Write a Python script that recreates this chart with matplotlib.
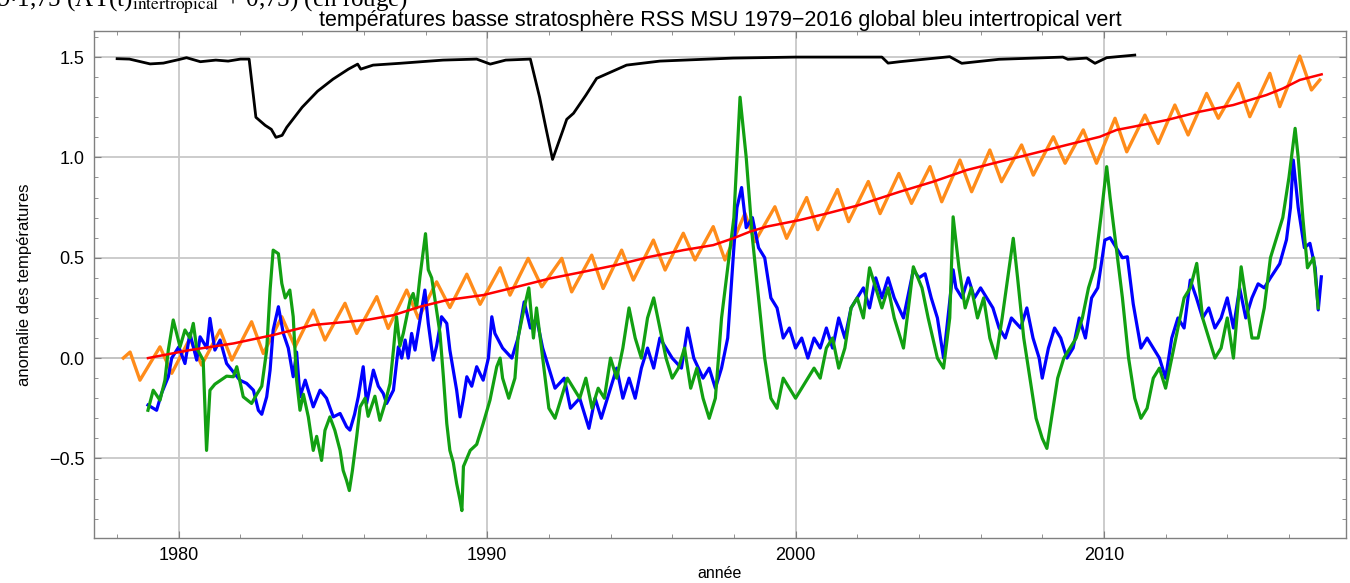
import numpy as np
import matplotlib.pyplot as plt
from matplotlib.ticker import MultipleLocator

# --- data ---
black_t = [1978.0, 1978.4, 1979.07, 1979.5, 1980.04, 1980.25, 1980.7, 1981.2, 1981.6, 1982.0, 1982.28,
           1982.5, 1982.8, 1983.0, 1983.15, 1983.35, 1983.5, 1984.0, 1984.5, 1985.0, 1985.5, 1985.8,
           1985.9, 1986.3, 1987.17, 1988.57, 1989.66, 1990.1, 1990.6, 1991.4, 1991.7, 1991.9, 1992.12,
           1992.46, 1992.58, 1992.8, 1993.2, 1993.55, 1994.52, 1995.6, 1997.97, 2000.0, 2002.8, 2003.0,
           2003.38, 2005.0, 2005.39, 2006.6, 2008.67, 2008.83, 2009.44, 2009.71, 2010.09, 2011.0]
black_v = [1.492, 1.49, 1.466, 1.47, 1.489, 1.497, 1.477, 1.485, 1.48, 1.49, 1.49,
           1.20, 1.16, 1.14, 1.10, 1.11, 1.15, 1.25, 1.33, 1.39, 1.44, 1.465,
           1.44, 1.46, 1.469, 1.485, 1.49, 1.465, 1.485, 1.49, 1.30, 1.15, 0.99,
           1.137, 1.19, 1.22, 1.31, 1.394, 1.46, 1.48, 1.495, 1.50, 1.50, 1.47,
           1.477, 1.502, 1.469, 1.489, 1.50, 1.489, 1.495, 1.469, 1.497, 1.51]

red_t = [1979.0, 1980.36, 1981.77, 1983.06, 1984.36, 1986.09, 1986.96, 1987.82, 1988.69, 1989.87,
         1990.96, 1992.04, 1993.12, 1994.2, 1995.28, 1996.36, 1997.33, 1997.98, 1998.52, 1999.06,
         2000.14, 2001.0, 2002.0, 2002.8, 2003.38, 2004.46, 2005.55, 2006.63, 2007.71, 2008.79,
         2009.87, 2010.41, 2010.95, 2012.03, 2013.11, 2014.19, 2015.27, 2015.81, 2016.35, 2017.06]
red_v = [0.0, 0.04, 0.073, 0.115, 0.165, 0.19, 0.214, 0.256, 0.289, 0.314,
         0.355, 0.397, 0.43, 0.464, 0.505, 0.538, 0.563, 0.597, 0.63, 0.655,
         0.688, 0.72, 0.76, 0.80, 0.829, 0.879, 0.937, 0.979, 1.02, 1.062,
         1.103, 1.137, 1.153, 1.186, 1.228, 1.261, 1.311, 1.344, 1.386, 1.414]

orange_t = [1978.2, 1978.42, 1978.74, 1979.39, 1979.77, 1980.36, 1980.74, 1981.34, 1981.72, 1982.36,
            1982.74, 1983.34, 1983.77, 1984.36, 1984.74, 1985.39, 1985.77, 1986.42, 1986.79, 1987.39,
            1987.77, 1988.36, 1988.79, 1989.34, 1989.77, 1990.42, 1990.74, 1991.33, 1991.77, 1992.42,
            1992.74, 1993.39, 1993.76, 1994.36, 1994.74, 1995.39, 1995.77, 1996.36, 1996.74, 1997.33,
            1997.71, 1998.36, 1998.68, 1999.33, 1999.71, 2000.36, 2000.72, 2001.36, 2001.72, 2002.36,
            2002.74, 2003.35, 2003.76, 2004.36, 2004.74, 2005.33, 2005.71, 2006.3, 2006.68, 2007.33,
            2007.71, 2008.36, 2008.74, 2009.33, 2009.76, 2010.36, 2010.74, 2011.33, 2011.76, 2012.3,
            2012.73, 2013.33, 2013.71, 2014.36, 2014.73, 2015.38, 2015.7, 2016.35, 2016.73, 2017.0]
orange_v = [0.0, 0.03, -0.11, 0.056, -0.076, 0.098, -0.035, 0.14, -0.01, 0.181,
            0.023, 0.206, 0.056, 0.239, 0.09, 0.273, 0.123, 0.306, 0.148, 0.339,
            0.198, 0.38, 0.252, 0.418, 0.268, 0.45, 0.314, 0.497, 0.355, 0.497,
            0.33, 0.513, 0.347, 0.538, 0.389, 0.588, 0.439, 0.622, 0.489, 0.655,
            0.489, 0.721, 0.58, 0.754, 0.597, 0.80, 0.64, 0.84, 0.68, 0.88,
            0.72, 0.92, 0.771, 0.954, 0.779, 0.987, 0.829, 1.037, 0.879, 1.062,
            0.912, 1.103, 0.971, 1.137, 0.971, 1.195, 1.028, 1.211, 1.07, 1.261,
            1.112, 1.319, 1.195, 1.369, 1.203, 1.419, 1.253, 1.505, 1.336, 1.386]

blue_t = [1979.0, 1979.28, 1979.44, 1979.66, 1979.77, 1980.0, 1980.2, 1980.36, 1980.58, 1980.69,
          1980.91, 1981.01, 1981.17, 1981.34, 1981.55, 1981.98, 1982.2, 1982.42, 1982.58, 1982.69,
          1982.85, 1982.96, 1983.06, 1983.23, 1983.39, 1983.55, 1983.71, 1983.82, 1983.93, 1984.1,
          1984.36, 1984.58, 1984.79, 1985.01, 1985.23, 1985.44, 1985.55, 1985.7, 1985.82, 1985.98,
          1986.09, 1986.31, 1986.47, 1986.63, 1986.74, 1986.96, 1987.12, 1987.23, 1987.34, 1987.44,
          1987.55, 1987.66, 1987.98, 1988.09, 1988.25, 1988.36, 1988.52, 1988.69, 1988.79, 1988.9,
          1989.01, 1989.12, 1989.23, 1989.34, 1989.5, 1989.66, 1989.87, 1990.04, 1990.15, 1990.25,
          1990.5, 1990.8, 1991.0, 1991.2, 1991.4, 1991.6, 1991.8, 1992.0, 1992.2, 1992.5,
          1992.7, 1993.0, 1993.3, 1993.5, 1993.7, 1994.0, 1994.2, 1994.4, 1994.6, 1994.8,
          1995.0, 1995.2, 1995.4, 1995.6, 1995.8, 1996.0, 1996.3, 1996.5, 1996.7, 1997.0,
          1997.2, 1997.4, 1997.6, 1997.8, 1998.0, 1998.1, 1998.25, 1998.4, 1998.6, 1998.8,
          1999.0, 1999.2, 1999.4, 1999.6, 1999.8, 2000.0, 2000.2, 2000.4, 2000.6, 2000.8,
          2001.0, 2001.2, 2001.4, 2001.6, 2001.8, 2002.0, 2002.2, 2002.4, 2002.6, 2002.8,
          2003.0, 2003.2, 2003.5, 2003.82, 2004.0, 2004.2, 2004.4, 2004.6, 2004.8, 2005.11,
          2005.2, 2005.4, 2005.6, 2005.8, 2006.0, 2006.2, 2006.4, 2006.6, 2006.8, 2007.0,
          2007.3, 2007.5, 2007.7, 2007.9, 2008.0, 2008.2, 2008.4, 2008.6, 2008.8, 2009.0,
          2009.2, 2009.4, 2009.6, 2009.8, 2010.03, 2010.2, 2010.4, 2010.6, 2010.76, 2010.95,
          2011.2, 2011.4, 2011.6, 2011.8, 2012.0, 2012.2, 2012.4, 2012.6, 2012.8, 2013.0,
          2013.2, 2013.4, 2013.6, 2013.8, 2014.0, 2014.2, 2014.4, 2014.6, 2014.8, 2015.0,
          2015.2, 2015.4, 2015.7, 2015.92, 2016.05, 2016.14, 2016.3, 2016.5, 2016.68, 2016.85,
          2016.95, 2017.05]
blue_v = [-0.234, -0.26, -0.176, -0.093, 0.0, 0.056, -0.027, 0.123, -0.01, 0.106,
          0.05, 0.198, 0.04, 0.09, -0.027, -0.11, -0.126, -0.16, -0.26, -0.28,
          -0.193, -0.06, 0.14, 0.256, 0.123, 0.05, -0.093, 0.03, -0.193, -0.11,
          -0.243, -0.16, -0.2, -0.293, -0.276, -0.342, -0.359, -0.28, -0.193, -0.043,
          -0.226, -0.06, -0.14, -0.176, -0.226, -0.16, 0.056, 0.0, 0.09, 0.0,
          0.123, 0.04, 0.339, 0.173, -0.01, 0.06, 0.206, 0.173, 0.04, -0.06,
          -0.16, -0.293, -0.2, -0.093, -0.14, -0.043, -0.11, 0.0, 0.206, 0.123,
          0.05, 0.0, 0.1, 0.28, 0.15, 0.2, 0.05, -0.05, -0.15, -0.1,
          -0.25, -0.2, -0.35, -0.2, -0.3, -0.15, -0.05, -0.2, -0.1, -0.2,
          -0.05, 0.05, -0.05, 0.1, 0.05, 0.0, -0.05, 0.15, 0.0, -0.1,
          -0.05, -0.15, -0.05, 0.1, 0.55, 0.75, 0.85, 0.65, 0.7, 0.55,
          0.5, 0.3, 0.25, 0.1, 0.15, 0.05, 0.1, 0.0, 0.1, 0.05,
          0.15, 0.05, 0.2, 0.1, 0.25, 0.3, 0.35, 0.25, 0.4, 0.3,
          0.4, 0.3, 0.2, 0.44, 0.4, 0.42, 0.3, 0.2, 0.0, 0.44,
          0.35, 0.3, 0.4, 0.3, 0.35, 0.3, 0.25, 0.15, 0.1, 0.2,
          0.15, 0.25, 0.1, 0.0, -0.1, 0.05, 0.15, 0.1, 0.0, 0.05,
          0.2, 0.1, 0.3, 0.35, 0.588, 0.6, 0.55, 0.5, 0.505, 0.27,
          0.05, 0.1, 0.05, 0.0, -0.1, 0.1, 0.2, 0.15, 0.389, 0.3,
          0.2, 0.25, 0.15, 0.2, 0.3, 0.15, 0.35, 0.2, 0.3, 0.37,
          0.35, 0.4, 0.47, 0.59, 0.75, 0.987, 0.75, 0.55, 0.572, 0.45,
          0.24, 0.405]

green_t = [1979.0, 1979.17, 1979.39, 1979.55, 1979.66, 1979.82, 1980.04, 1980.2, 1980.36, 1980.47,
           1980.58, 1980.79, 1980.9, 1981.01, 1981.17, 1981.55, 1981.77, 1981.88, 1982.09, 1982.36,
           1982.53, 1982.69, 1982.85, 1982.96, 1983.06, 1983.23, 1983.34, 1983.45, 1983.6, 1983.71,
           1983.82, 1983.93, 1984.04, 1984.2, 1984.36, 1984.47, 1984.63, 1984.74, 1984.9, 1985.06,
           1985.23, 1985.33, 1985.44, 1985.53, 1985.63, 1985.77, 1985.88, 1986.04, 1986.14, 1986.36,
           1986.52, 1986.68, 1986.85, 1986.96, 1987.06, 1987.17, 1987.28, 1987.5, 1987.6, 1987.71,
           1987.82, 1987.93, 1988.0, 1988.09, 1988.2, 1988.31, 1988.47, 1988.58, 1988.69, 1988.79,
           1988.9, 1989.01, 1989.12, 1989.18, 1989.23, 1989.34, 1989.45, 1989.66, 1989.87, 1990.09,
           1990.31, 1990.42, 1990.5, 1990.7, 1990.9, 1991.0, 1991.2, 1991.35, 1991.5, 1991.6,
           1991.8, 1992.0, 1992.2, 1992.4, 1992.6, 1992.8, 1993.0, 1993.2, 1993.4, 1993.6,
           1993.8, 1994.0, 1994.2, 1994.4, 1994.6, 1994.8, 1995.0, 1995.2, 1995.4, 1995.6,
           1995.8, 1996.0, 1996.2, 1996.4, 1996.6, 1996.8, 1997.0, 1997.2, 1997.4, 1997.6,
           1997.8, 1998.0, 1998.1, 1998.2, 1998.3, 1998.4, 1998.6, 1998.8, 1999.0, 1999.2,
           1999.4, 1999.6, 1999.8, 2000.0, 2000.2, 2000.4, 2000.6, 2000.8, 2001.0, 2001.2,
           2001.4, 2001.6, 2001.8, 2002.0, 2002.2, 2002.4, 2002.6, 2002.8, 2003.0, 2003.2,
           2003.5, 2003.7, 2003.82, 2004.1, 2004.3, 2004.6, 2004.8, 2005.0, 2005.11, 2005.3,
           2005.5, 2005.7, 2005.9, 2006.1, 2006.3, 2006.5, 2006.7, 2007.06, 2007.2, 2007.4,
           2007.6, 2007.8, 2008.0, 2008.15, 2008.3, 2008.5, 2008.7, 2008.9, 2009.1, 2009.3,
           2009.5, 2009.7, 2009.9, 2010.09, 2010.2, 2010.4, 2010.6, 2010.8, 2011.0, 2011.2,
           2011.4, 2011.6, 2011.8, 2012.0, 2012.2, 2012.4, 2012.6, 2012.8, 2013.01, 2013.2,
           2013.4, 2013.6, 2013.8, 2014.0, 2014.2, 2014.45, 2014.6, 2014.8, 2015.0, 2015.2,
           2015.4, 2015.6, 2015.8, 2016.0, 2016.2, 2016.3, 2016.45, 2016.6, 2016.8, 2016.95]
green_v = [-0.26, -0.16, -0.21, -0.11, 0.04, 0.19, 0.056, 0.14, 0.1, 0.173,
           0.05, -0.01, -0.46, -0.16, -0.13, -0.09, -0.093, -0.043, -0.193, -0.226,
           -0.18, -0.14, 0.04, 0.339, 0.538, 0.52, 0.372, 0.3, 0.339, 0.206,
           -0.11, -0.26, -0.18, -0.293, -0.46, -0.39, -0.51, -0.36, -0.293, -0.36,
           -0.46, -0.56, -0.61, -0.66, -0.56, -0.39, -0.243, -0.2, -0.29, -0.19,
           -0.31, -0.23, -0.126, 0.04, 0.206, 0.06, 0.123, 0.289, 0.322, 0.25,
           0.405, 0.538, 0.62, 0.44, 0.40, 0.289, 0.123, -0.093, -0.326, -0.46,
           -0.52, -0.625, -0.708, -0.76, -0.54, -0.5, -0.46, -0.43, -0.326, -0.21,
           -0.043, 0.0, -0.1, -0.2, -0.1, 0.1, 0.25, 0.35, 0.1, 0.25,
           0.0, -0.25, -0.3, -0.2, -0.1, -0.15, -0.2, -0.1, -0.25, -0.15,
           -0.2, 0.0, -0.1, 0.05, 0.25, 0.1, 0.0, 0.2, 0.3, 0.15,
           0.0, -0.1, -0.05, 0.05, -0.15, -0.05, -0.2, -0.3, -0.2, 0.2,
           0.45, 0.7, 1.0, 1.3, 1.15, 1.0, 0.6, 0.3, 0.0, -0.2,
           -0.25, -0.1, -0.15, -0.2, -0.15, -0.1, -0.05, -0.1, 0.05, 0.1,
           -0.05, 0.05, 0.25, 0.3, 0.2, 0.45, 0.35, 0.25, 0.35, 0.2,
           0.05, 0.3, 0.455, 0.35, 0.2, 0.0, -0.05, 0.2, 0.704, 0.45,
           0.25, 0.35, 0.2, 0.3, 0.1, 0.0, 0.2, 0.597, 0.4, 0.1,
           -0.1, -0.3, -0.4, -0.45, -0.3, -0.1, 0.0, 0.05, 0.1, 0.2,
           0.35, 0.45, 0.7, 0.954, 0.8, 0.55, 0.3, 0.0, -0.2, -0.3,
           -0.25, -0.1, -0.05, -0.15, 0.0, 0.15, 0.3, 0.35, 0.472, 0.2,
           0.1, 0.0, 0.05, 0.2, 0.0, 0.455, 0.3, 0.1, 0.1, 0.25,
           0.5, 0.6, 0.7, 0.9, 1.145, 1.0, 0.7, 0.45, 0.5, 0.25]

title = "températures basse stratosphère RSS MSU 1979\u22122016 global bleu intertropical vert"

fig = plt.figure(figsize=(13.5, 5.83), dpi=100)
ax = fig.add_axes([94 / 1350, 1 - 537.7 / 583, (1346 - 94) / 1350, (537.7 - 31) / 583])

ax.plot(black_t, black_v, color="black", lw=2.0, zorder=5)
ax.plot(orange_t, orange_v, color="#ff8c1a", lw=2.4, zorder=3, solid_joinstyle="round")
ax.plot(blue_t, blue_v, color="#0000ff", lw=2.3, zorder=3)
ax.plot(green_t, green_v, color="#12a012", lw=2.3, zorder=4)
ax.plot(red_t, red_v, color="#ff0000", lw=1.8, zorder=6)

ax.axhline(0, color="#8c8c8c", lw=1.2, zorder=1)
ax.set_xlim(1977.25, 2017.85)
ax.set_ylim(-0.895, 1.63)
ax.xaxis.set_major_locator(MultipleLocator(10))
ax.xaxis.set_minor_locator(MultipleLocator(2))
ax.yaxis.set_major_locator(MultipleLocator(0.5))
ax.yaxis.set_minor_locator(MultipleLocator(0.1))
ax.grid(True, which="major", color="#c8c8c8", lw=1.3, zorder=0)
ax.tick_params(which="both", direction="in", top=True, right=True, color="#808080",
               labelsize=13, labelfontfamily="Liberation Sans", pad=7)
ax.tick_params(which="major", length=5)
ax.tick_params(which="minor", length=3)
for s in ax.spines.values():
    s.set_color("#808080")
    s.set_linewidth(1.0)
ax.yaxis.set_major_formatter(plt.FuncFormatter(lambda v, p: f"{v:.1f}".replace("-", "\u2212")))

ax.set_title(title, fontsize=15.5, family="Liberation Sans", pad=1)
ax.set_xlabel("année", fontsize=11.5, family="Liberation Sans", labelpad=1)
ax.set_ylabel("anomalie des températures", fontsize=12,
              family=["Liberation Sans Narrow", "Liberation Sans"], labelpad=12)

fig.text(-0.002, 0.988, r"9$\cdot$1,75 (AT(t)$_{\mathrm{intertropical}}$ + 0,75) (en rouge)",
         fontsize=18, family="Liberation Serif", math_fontfamily="stix", va="baseline")

fig.savefig("out.png", dpi=100)
